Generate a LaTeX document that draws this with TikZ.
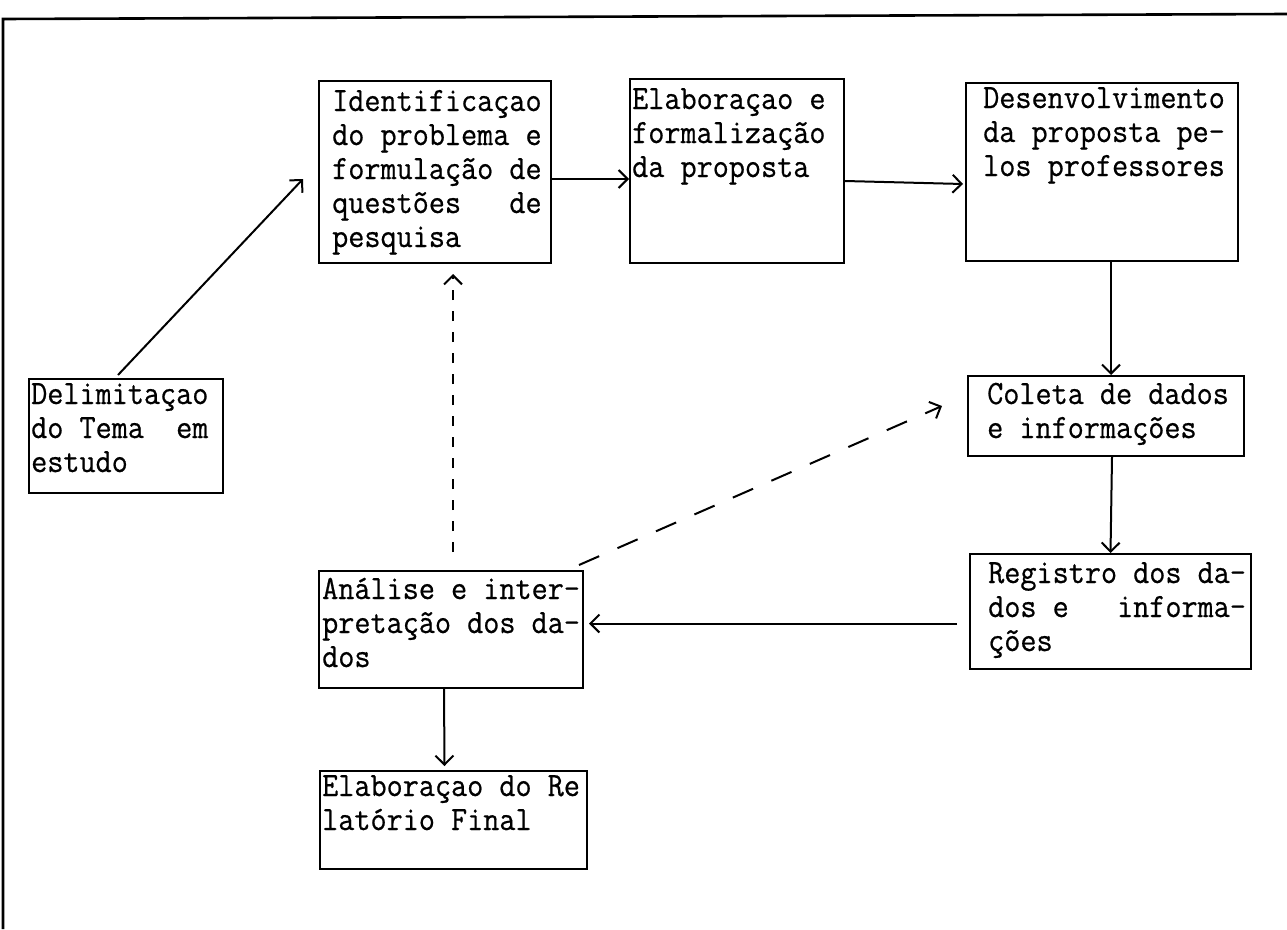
\documentclass[tikz,border=0pt]{standalone}
\usepackage{fontspec}
\newfontfamily\tw{Latin Modern Mono}[FakeStretch=0.92,FakeBold=0.6]
\usetikzlibrary{arrows.meta,calc}
\begin{document}
\begin{tikzpicture}[x=1pt,y=-1pt,
  box/.style={draw,line width=2pt,inner sep=0pt,anchor=north west},
  txt/.style={anchor=north west,inner sep=0pt,align=left,font=\fontsize{34}{34}\selectfont\tw},
  arr/.style={line width=2pt,-{Straight Barb[length=9pt,width=18pt,line width=2pt]}},
  dashv/.style={arr,dash pattern=on 10pt off 11pt},
  dashd/.style={arr,dash pattern=on 22pt off 20pt}]
\useasboundingbox (0,0) rectangle (1287,929);
% frame
\draw[line width=2.6pt] (3,929) -- (3,19) -- (1287,14);
% boxes
\node[box,minimum width=232pt,minimum height=182pt] (id) at (318,80) {};
\node[box,minimum width=214pt,minimum height=184pt] (elab) at (629,78) {};
\node[box,minimum width=272pt,minimum height=178pt] (des) at (965,82) {};
\node[box,minimum width=194pt,minimum height=114pt] (delim) at (28,378) {};
\node[box,minimum width=276pt,minimum height=80pt] (coleta) at (967,375) {};
\node[box,minimum width=281pt,minimum height=115pt] (registro) at (969,553) {};
\node[box,minimum width=264pt,minimum height=117pt] (analise) at (318,570) {};
\node[box,minimum width=267pt,minimum height=98pt] (relatorio) at (319,770) {};
% texts
\node[txt] (tid) at (332,87) {\strut Identificaçao\\do problema e\\formulação de\\questões~~~de\\pesquisa};
\node[txt] (telab) at (632,85) {\strut Elaboraçao e\\formalização\\da proposta};
\node[txt] (tdes) at (983,84) {\strut Desenvolvimento\\da proposta pe-\\los professores};
\node[txt] (tdelim) at (31,380) {\strut Delimitaçao\\do~Tema~~em\\estudo};
\node[txt] (tcoleta) at (987,380) {\strut Coleta de dados\\e informações};
\node[txt] (treg) at (988,559) {\strut Registro dos da-\\dos~e~~~informa-\\ções};
\node[txt] (tan) at (322,575) {\strut Análise e inter-\\pretação dos da-\\dos};
\node[txt] (trel) at (322,772) {\strut Elaboraçao do Re\\latório Final};
% connectors
\draw[arr] ($(delim.north)+(-8,-3)$) -- ($(id.west)+(-15,7)$);
\draw[arr] ($(id.east)+(0,7)$) -- ($(elab.west)+(0,8)$);
\draw[arr] ($(elab.east)+(0,10)$) -- ($(des.west)+(-2,12)$);
\draw[arr] ($(des.south)+(9,0)$) -- ($(coleta.north)+(5,0)$);
\draw[arr] ($(coleta.south)+(6,0)$) -- (registro.north);
\draw[arr] ($(registro.west)+(-12,12)$) -- ($(analise.east)+(5,-6)$);
\draw[arr] ($(analise.south)+(-7,0)$) -- ($(relatorio.north)+(-9,-4)$);
\draw[dashv] ($(analise.north)+(2,-18)$) -- ($(id.south)+(18,10)$);
\draw[dashd] ($(analise.north east)+(-5,-5)$) -- ($(coleta.west)+(-25,-10)$);
\end{tikzpicture}
\end{document}
